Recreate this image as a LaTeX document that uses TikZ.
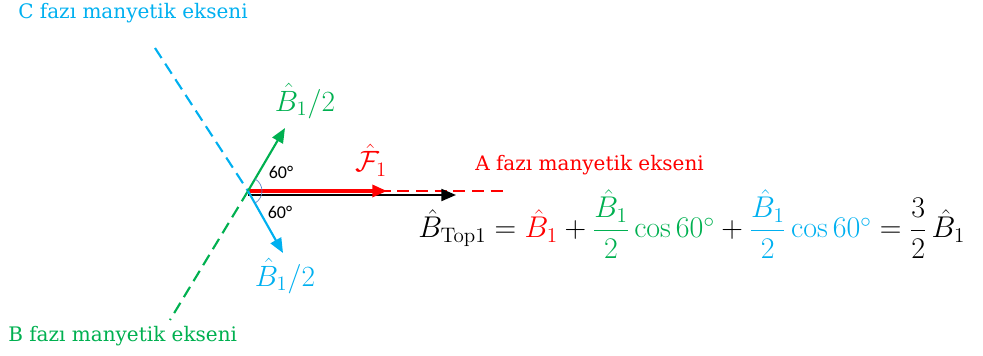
\RequirePackage{fix-cm}
\documentclass[tikz,border=0pt]{standalone}
\usepackage{amsmath,amssymb}
\usepackage[no-math]{fontspec}
\setmainfont{DejaVu Serif}
\newfontfamily\anglefont{Carlito}
\usetikzlibrary{arrows.meta,positioning,calc,angles}
\definecolor{ink}{RGB}{0,0,0}
\definecolor{phaseA}{RGB}{255,0,0}
\definecolor{phaseB}{RGB}{0,176,80}
\definecolor{phaseC}{RGB}{0,176,240}
\definecolor{arcline}{RGB}{91,130,200}

\begin{document}
\begin{tikzpicture}[
  x=0.75pt, y=-0.75pt, >={Triangle[length=11pt,width=9pt]},
  axis/.style={dash pattern=on 9pt off 5pt, line width=1.6pt},
  vec/.style={->, line width=1.6pt},
  axlabel/.style={font=\fontsize{15}{18}\selectfont, inner sep=0pt},
  vlabel/.style={font=\fontsize{22}{26}\selectfont, inner sep=0pt},
  anglab/.style={font=\anglefont\fontsize{13.5}{15}\selectfont, inner sep=0pt},
]
\useasboundingbox (0,0) rectangle (983,356);
% ---------------------------------------------------------------- points
\coordinate (O) at (248,191);
\coordinate (Ob) at (248,195);
\coordinate (Cend) at (155,48);
\coordinate (Bend) at (170,320);
\coordinate (Aend) at (506,191);
\coordinate (Gtip) at (285,128);
\coordinate (Ctip) at (283,253);
\coordinate (Ftip) at (387,191);
\coordinate (Ttip) at (456,195);

% ---------------------------------------------------------------- phase axes
\draw[axis, draw=phaseC] (Cend) -- (O);
\draw[axis, draw=phaseB] (O) -- (Bend);
\draw[axis, draw=phaseA] (O) -- (Aend);

% ---------------------------------------------------------------- vectors
\draw[vec, draw=ink, fill=ink] (Ob) -- (Ttip);
\draw[vec, draw=phaseA, fill=phaseA, line width=2.4pt] (O) -- (Ftip);
\draw[vec, draw=phaseB, fill=phaseB] (O) -- (Gtip);
\draw[vec, draw=phaseC, fill=phaseC] (O) -- (Ctip);

% angle marks
\pic[draw=arcline, line width=0.5pt, angle radius=10.5pt] {angle = Aend--O--Gtip};
\pic[draw=arcline, line width=0.5pt, angle radius=10.5pt] {angle = Ctip--O--Aend};

% ---------------------------------------------------------------- labels
\node[axlabel, text=phaseC, anchor=west] (Clab) at (18,13) {C fazı manyetik ekseni};
\node[axlabel, text=phaseB, anchor=west] (Blab) at (8,336) {B fazı manyetik ekseni};
\node[axlabel, text=phaseA, anchor=west] (Alab) at (475,165) {A fazı manyetik ekseni};

\node[vlabel, text=phaseB] (Ghalf) at (305,101) {$\hat{B}_1/2$};
\node[vlabel, text=phaseC] (Chalf) at (285,276) {$\hat{B}_1/2$};
\node[vlabel, text=phaseA] (Flab) at (371,160) {$\hat{\mathcal{F}}_1$};
\node[anglab] (up60) at (281,172) {60°};
\node[anglab] (dn60) at (280,212) {60°};

\node[vlabel, anchor=base west, font=\fontsize{22.5}{27}\selectfont] (eq) at (418,238)
  {$\hat{B}_{\mathrm{Top1}} = {\color{phaseA}\hat{B}_1} + {\color{phaseB}\dfrac{\hat{B}_1}{2}\cos 60^\circ} + {\color{phaseC}\dfrac{\hat{B}_1}{2}\cos 60^\circ} = \dfrac{3}{2}\,\hat{B}_1$};
\end{tikzpicture}
\end{document}
